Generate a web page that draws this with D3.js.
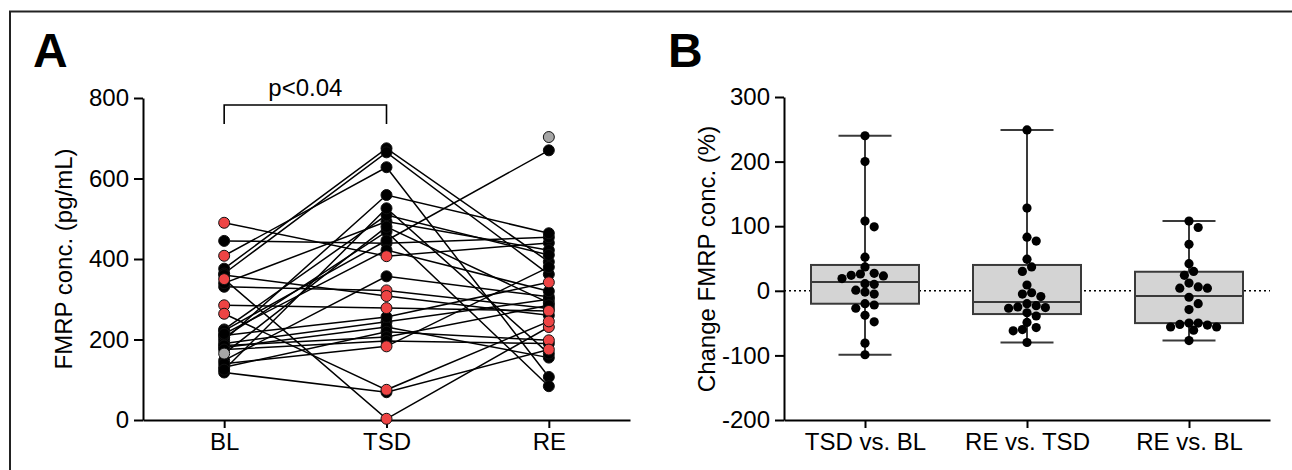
<!DOCTYPE html>
<html>
<head>
<meta charset="utf-8">
<script src="https://cdn.jsdelivr.net/npm/d3@7"></script>
<style>
  body { margin: 0; background: #fff; }
  text { font-family: "Liberation Sans", Arial, sans-serif; }
</style>
</head>
<body>
<svg id="chart" width="1292" height="470"></svg>
<script>
// ---- panel A: FMRP per subject (pg/mL), one entry per subject, null = missing
var timepoints = ['BL', 'TSD', 'RE'];
var blValues  = [490, 445, 408, 376, 364, 350, 331, 340, 285, 264, 225, 205, 198, 190, 180, 165, 148, 131, 118, 222, 210, 185, 360, 175, 140, 125, 214, null];
var tsdValues = [407, 439, 628, 675, 665,   3, 322, 493, 278,  75, 509, 468, 559, 244, 231, 480, 357, 219,  69, 446, 256, 206, 308, 196, 183, 526, 422, null];
var reValues  = [440, 454, 107, 393, 362, 231, 277, 422, 271, 245, 410,  84, 464, 300, 155, 291, 306, 198, 175, 670, 342, 285, 260, 190, 380, 165, 320, 703];
// marker kind per point: r = red, k = black, g = grey
var blKind  = ['r','k','r','k','k','r','k','k','r','r','k','k','k','k','k','g','k','k','k','k','k','k','k','k','k','k','k','k'];
var tsdKind = ['r','k','k','k','k','r','r','k','r','r','k','k','k','k','k','k','k','k','k','k','k','k','r','k','r','k','k','k'];
var reKind  = ['k','k','k','k','k','r','k','k','r','r','k','k','k','k','k','k','k','r','r','k','r','k','k','k','k','k','k','g'];
var yTicksA = [0, 200, 400, 600, 800];

// ---- panel B: % change, individual points
var comparisons = ['TSD vs. BL', 'RE vs. TSD', 'RE vs. BL'];
var tsdVsBl = [240, 200, 108, 99, 52, 37, 23, 26, 27, 24, 19, 11, 10, 1, -2, -5, -22, -20, -27, -38, -48, -81, -99];
var reVsTsd = [249, 128, 83, 77, 49, 37, 30, 9, -5, -9, -3, -20, -25, -27, -23, -26, -34, -39, -49, -60, -62, -57, -80];
var reVsBl  = [108, 98, 72, 42, 30, 24, 12, 4, 6, 4, -10, -20, -29, -50, -53, -56, -61, -56, -52, -50, -77];
// box quartiles
var q1s     = [-20, -36, -50];
var medians = [13.5, -17.5, -8];
var q3s     = [40, 40, 29.5];
var yTicksB = [-200, -100, 0, 100, 200, 300];

var kindColor = { r: '#ee4444', k: '#000000', g: '#a6a6a6' };
var fs = 24;

var svg = d3.select('#chart');

// outer frame (top and left edges)
svg.append('path')
    .attr('d', 'M10,470 V11.5 H1292')
    .attr('fill', 'none')
    .attr('stroke', '#222')
    .attr('stroke-width', 2);

// ================= Panel A =================
var xA = d3.scalePoint().domain(timepoints).range([143, 630]).padding(0.5);
var yA = d3.scaleLinear().domain([0, 800]).range([420, 98]);

svg.append('text').attr('x', 33).attr('y', 67)
    .attr('font-size', 48).attr('font-weight', 'bold').text('A');

var gA = svg.append('g');

gA.append('g')
    .attr('transform', 'translate(143,0)')
    .call(d3.axisLeft(yA).tickValues(yTicksA).tickSize(9).tickSizeOuter(0).tickPadding(5).tickFormat(String))
    .call(styleAxis);

gA.append('g')
    .attr('transform', 'translate(0,420)')
    .call(d3.axisBottom(xA).tickSize(8).tickSizeOuter(0).tickPadding(5))
    .call(styleAxis);

svg.append('text')
    .attr('transform', 'translate(72,259) rotate(-90)')
    .attr('text-anchor', 'middle')
    .attr('font-size', fs)
    .text('FMRP conc. (pg/mL)');

// significance bracket
var bracketTop = 105, bracketBot = 124;
gA.append('path')
    .attr('d', 'M' + xA('BL') + ',' + bracketBot + ' V' + bracketTop + ' H' + xA('TSD') + ' V' + bracketBot)
    .attr('fill', 'none').attr('stroke', '#000').attr('stroke-width', 1.6);
gA.append('text')
    .attr('x', (xA('BL') + xA('TSD')) / 2).attr('y', 96)
    .attr('text-anchor', 'middle').attr('font-size', fs)
    .text('p<0.04');

var subjects = blValues.map(function(d, i) {
    return [
        { t: 'BL', v: blValues[i], k: blKind[i] },
        { t: 'TSD', v: tsdValues[i], k: tsdKind[i] },
        { t: 'RE', v: reValues[i], k: reKind[i] }
    ];
});

var line = d3.line()
    .defined(function(d) { return d.v != null; })
    .x(function(d) { return xA(d.t); })
    .y(function(d) { return yA(d.v); });

gA.append('g').selectAll('path')
    .data(subjects)
    .enter()
    .append('path')
    .attr('d', line)
    .attr('fill', 'none')
    .attr('stroke', '#000')
    .attr('stroke-width', 1.5);

var pts = [];
subjects.forEach(function(s) {
    s.forEach(function(p) { if (p.v != null) pts.push(p); });
});
// black first, coloured markers drawn on top
pts.sort(function(a, b) { return (a.k !== 'k') - (b.k !== 'k'); });

gA.append('g').selectAll('circle')
    .data(pts)
    .enter()
    .append('circle')
    .attr('cx', function(d) { return xA(d.t); })
    .attr('cy', function(d) { return yA(d.v); })
    .attr('r', 5.5)
    .attr('fill', function(d) { return kindColor[d.k]; })
    .attr('stroke', '#111')
    .attr('stroke-width', 1);

// ================= Panel B =================
var xB = d3.scalePoint().domain(comparisons).range([784, 1270]).padding(0.5);
var yB = d3.scaleLinear().domain([-200, 300]).range([420, 97]);

svg.append('text').attr('x', 668).attr('y', 67)
    .attr('font-size', 48).attr('font-weight', 'bold').text('B');

var gB = svg.append('g');

gB.append('g')
    .attr('transform', 'translate(784,0)')
    .call(d3.axisLeft(yB).tickValues(yTicksB).tickSize(9).tickSizeOuter(0).tickPadding(5).tickFormat(String))
    .call(styleAxis);

gB.append('g')
    .attr('transform', 'translate(0,420)')
    .call(d3.axisBottom(xB).tickSize(8).tickSizeOuter(0).tickPadding(5))
    .call(styleAxis);

svg.append('text')
    .attr('transform', 'translate(715,259) rotate(-90)')
    .attr('text-anchor', 'middle')
    .attr('font-size', fs)
    .text('Change FMRP conc. (%)');

// dotted zero line
gB.append('line')
    .attr('x1', 784).attr('x2', 1270)
    .attr('y1', yB(0)).attr('y2', yB(0))
    .attr('stroke', '#000').attr('stroke-width', 1.6)
    .attr('stroke-dasharray', '2,3');

var groups = [tsdVsBl, reVsTsd, reVsBl];
var boxW = 108, capW = 53, ptR = 4.6;

groups.forEach(function(vals, i) {
    var cx = xB(comparisons[i]);
    var ext = d3.extent(vals);
    var g = gB.append('g');

    // whisker
    g.append('line').attr('x1', cx).attr('x2', cx)
        .attr('y1', yB(ext[0])).attr('y2', yB(ext[1]))
        .attr('stroke', '#3a3a3a').attr('stroke-width', 2);
    g.selectAll('.cap').data(ext).enter().append('line')
        .attr('x1', cx - capW / 2).attr('x2', cx + capW / 2)
        .attr('y1', function(d) { return yB(d); })
        .attr('y2', function(d) { return yB(d); })
        .attr('stroke', '#3a3a3a').attr('stroke-width', 2);

    // box
    g.append('rect')
        .attr('x', cx - boxW / 2).attr('width', boxW)
        .attr('y', yB(q3s[i])).attr('height', yB(q1s[i]) - yB(q3s[i]))
        .attr('fill', '#d4d4d4').attr('stroke', '#3a3a3a').attr('stroke-width', 2);
    g.append('line')
        .attr('x1', cx - boxW / 2).attr('x2', cx + boxW / 2)
        .attr('y1', yB(medians[i])).attr('y2', yB(medians[i]))
        .attr('stroke', '#3a3a3a').attr('stroke-width', 2);

    // points, spread sideways so they don't overlap
    var placed = swarm(vals, yB, ptR);
    g.selectAll('circle').data(placed).enter().append('circle')
        .attr('cx', function(d) { return cx + d.dx; })
        .attr('cy', function(d) { return d.y; })
        .attr('r', ptR)
        .attr('fill', '#000');
});

function swarm(vals, y, r) {
    var out = [];
    vals.slice().sort(function(a, b) { return b - a; }).forEach(function(v) {
        var py = y(v);
        for (var k = 0; k < 60; k++) {
            var dx = (k % 2 ? 1 : -1) * Math.ceil(k / 2) * r;
            var hit = out.some(function(p) {
                var ddx = p.dx - dx, ddy = p.y - py;
                return ddx * ddx + ddy * ddy < (1.8 * r) * (1.8 * r);
            });
            if (!hit) { out.push({ dx: dx, y: py }); break; }
        }
    });
    return out;
}

function styleAxis(g) {
    g.selectAll('.domain').attr('stroke', '#000').attr('stroke-width', 2);
    g.selectAll('.tick line').attr('stroke', '#000').attr('stroke-width', 2);
    g.selectAll('.tick text').attr('font-size', fs).attr('fill', '#000')
        .attr('font-family', '"Liberation Sans", Arial, sans-serif');
}
</script>
</body>
</html>
